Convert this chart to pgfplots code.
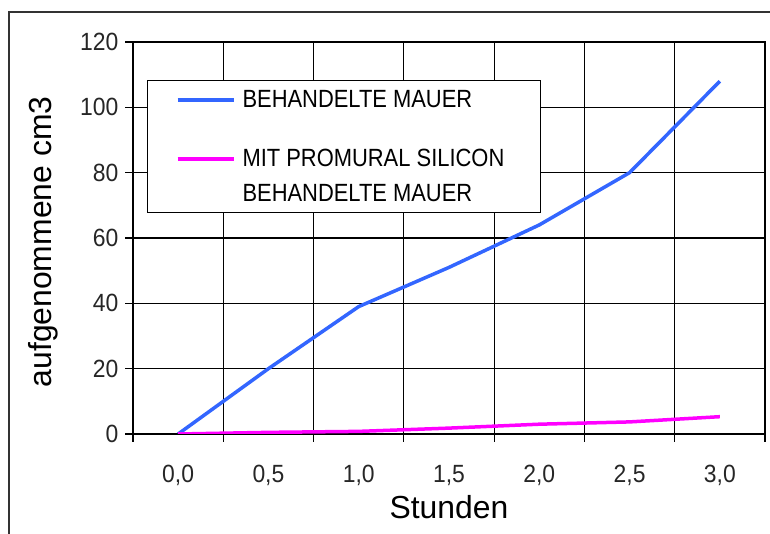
\documentclass[border=0pt]{standalone}
\usepackage{pgfplots}
\pgfplotsset{compat=1.18}
\usepackage{fontspec}
\setmainfont{Liberation Sans}
\newfontfamily\narrowfont[FakeStretch=0.88]{Liberation Sans}
\newfontfamily\tickfont[FakeStretch=0.92]{Liberation Sans}
\definecolor{serblue}{RGB}{51,102,255}
\definecolor{sermag}{RGB}{255,0,255}

\begin{document}
\begin{tikzpicture}
\path[use as bounding box] (0,0) rectangle (770bp,534bp);
% outer chart frame (continues past the right and bottom edges)
\draw[line width=1.2bp, black!80] (9bp,0) -- (9bp,522bp) -- (770bp,522bp);
\begin{axis}[
  at={(133bp,100bp)}, anchor=south west,
  scale only axis, width=632bp, height=392bp,
  xmin=-0.5, xmax=6.5, ymin=0, ymax=120,
  xtick={-0.5,0.5,...,6.5},
  x tick label as interval,
  xticklabels={0{,}0,0{,}5,1{,}0,1{,}5,2{,}0,2{,}5,3{,}0},
  ytick={0,20,...,120},
  xmajorgrids, ymajorgrids,
  grid style={black, line width=1.2bp},
  axis line style={black, line width=1.2bp},
  tick style={black, line width=1.2bp},
  tick align=outside, major tick length=8bp,
  xtick pos=bottom, ytick pos=left,
  /pgf/number format/assume math mode=true,
  tick label style={font=\tickfont\fontsize{25}{27}\selectfont, text=black!85},
  yticklabel style={xshift=-3bp},
  xticklabel style={yshift=-20bp},
  xlabel={Stunden}, ylabel={aufgenommene cm3},
  label style={font=\fontsize{32}{34}\selectfont},
  xlabel style={at={(axis description cs:0.5,-0.2143)}, anchor=base},
  ylabel style={at={(axis description cs:-0.142,0.49)}, anchor=center},
  legend style={at={(0.0222,0.903)}, anchor=north west,
    draw=black, line width=1bp, fill=white,
    font=\narrowfont\fontsize{25}{35}\selectfont,
    inner xsep=6bp, inner ysep=8bp, row sep=36bp,
    cells={anchor=west, align=left}},
  legend image code/.code={\path[draw=none] (0bp,-2bp) -- (87bp,-2bp);
    \draw[#1, line width=4bp] (24bp,0bp) -- (80bp,0bp);},
]
\addplot[serblue, line width=3.5bp] coordinates {
  (0,0) (1,20) (2,39) (3,51) (4,64) (5,80) (6,108)};
\addplot[sermag, line width=3.5bp,
  legend image code/.code={\path[draw=none] (0bp,0bp) -- (87bp,0bp);
    \draw[sermag, line width=4bp] (24bp,17bp) -- (80bp,17bp);}] coordinates {
  (0,0) (1,0.5) (2,0.8) (3,1.8) (4,3) (5,3.7) (6,5.3)};
\legend{BEHANDELTE MAUER\hspace*{60bp}, MIT PROMURAL SILICON\\BEHANDELTE MAUER}
\end{axis}
\end{tikzpicture}
\end{document}
